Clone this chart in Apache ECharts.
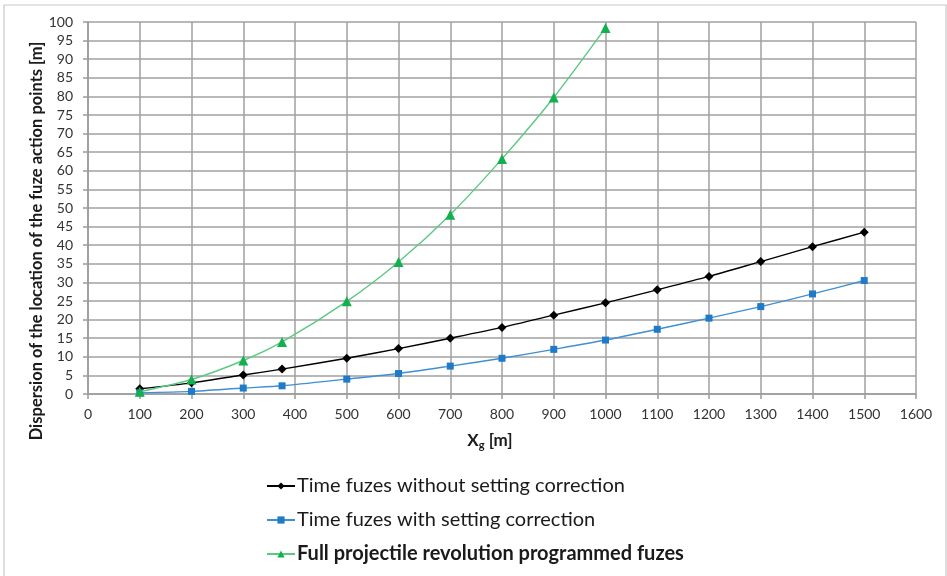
<!DOCTYPE html>
<html>
<head>
<meta charset="utf-8">
<script src="https://cdn.jsdelivr.net/npm/echarts@6/dist/echarts.min.js"></script>
<style>
  html, body { margin: 0; padding: 0; background: #ffffff; }
  #chart { width: 947px; height: 576px; }
</style>
</head>
<body>
<div id="chart"></div>
<script>
// Firing range Xg [m] at which each dispersion value is given
const rangeAll = [100, 200, 300, 375, 500, 600, 700, 800, 900, 1000, 1100, 1200, 1300, 1400, 1500];
const rangeFull = [100, 200, 300, 375, 500, 600, 700, 800, 900, 1000];

// Dispersion of the fuze action points [m]
const timeNoCorrection = [1.4, 3.0, 5.1, 6.7, 9.6, 12.2, 15.0, 17.9, 21.2, 24.5, 28.0, 31.6, 35.6, 39.6, 43.5];
const timeWithCorrection = [0.3, 0.7, 1.6, 2.2, 4.0, 5.5, 7.5, 9.6, 12.0, 14.5, 17.4, 20.4, 23.5, 26.9, 30.5];
const fullRevolution = [0.6, 3.9, 9.0, 14.0, 24.9, 35.5, 48.2, 63.2, 79.7, 98.4];

const seriesNames = [
  'Time fuzes without setting correction',
  'Time fuzes with setting correction',
  'Full projectile revolution programmed fuzes'
];
const yTitle = 'Dispersion of the location of the fuze action points [m]';

const pairs = (xs, ys) => xs.map((x, i) => [x, ys[i]]);

const font = 'Lato, "Open Sans", sans-serif';
const textColor = '#1a1a1a';
const chart = echarts.init(document.getElementById('chart'), null, { renderer: 'canvas' });

chart.setOption({
  animation: false,
  backgroundColor: '#ffffff',
  graphic: [
    {
      type: 'rect',
      shape: { x: 4, y: 5, width: 942, height: 580 },
      style: { fill: 'none', stroke: '#c8c8c8', lineWidth: 1.2 },
      z: -1
    },
    {
      // vertical axis title
      type: 'text',
      x: 37, y: 241,
      rotation: Math.PI / 2,
      style: {
        text: yTitle,
        font: 'bold 16.5px ' + font,
        fill: textColor,
        align: 'center',
        verticalAlign: 'middle'
      }
    },
    {
      // horizontal axis title with subscript
      type: 'text',
      x: 490, y: 441,
      style: {
        text: '{x|X}{sub|g}{x| [m]}',
        align: 'center',
        verticalAlign: 'middle',
        rich: {
          x: { font: 'bold 17px ' + font, fill: textColor },
          sub: { font: 'bold 11px ' + font, fill: textColor, padding: [9, 0, 0, 0] }
        }
      }
    }
  ],
  grid: { left: 88, right: 31, top: 22, bottom: 182, containLabel: false },
  xAxis: {
    type: 'value',
    min: 0, max: 1600, interval: 100,
    axisLine: { show: true, lineStyle: { color: '#9a9a9a', width: 1.5 } },
    axisTick: { show: true, length: 5, lineStyle: { color: '#9a9a9a', width: 1.5 } },
    axisLabel: { fontFamily: font, fontSize: 14, color: '#333333', margin: 13, formatter: v => String(v) },
    splitLine: { show: true, lineStyle: { color: '#a0a0a0', width: 1.5 } }
  },
  yAxis: {
    type: 'value',
    min: 0, max: 100, interval: 5,
    axisLine: { show: true, lineStyle: { color: '#9a9a9a', width: 1.5 } },
    axisTick: { show: true, length: 5, lineStyle: { color: '#9a9a9a', width: 1.5 } },
    axisLabel: { fontFamily: font, fontSize: 14, color: '#333333', margin: 15 },
    splitLine: { show: true, lineStyle: { color: '#a0a0a0', width: 1.5 } }
  },
  legend: {
    orient: 'vertical',
    left: 261,
    top: 471,
    itemGap: 14,
    itemWidth: 28,
    itemHeight: 9,
    data: [
      { name: seriesNames[0], textStyle: { fontWeight: 'normal' } },
      { name: seriesNames[1], textStyle: { fontWeight: 'normal' } },
      { name: seriesNames[2], textStyle: { fontWeight: 'bold' } }
    ],
    textStyle: { fontFamily: font, fontSize: 20, color: textColor, padding: [0, 0, 0, -3] }
  },
  series: [
    {
      name: seriesNames[0],
      type: 'line',
      data: pairs(rangeAll, timeNoCorrection),
      smooth: 0.25,
      symbol: 'diamond',
      symbolSize: 9,
      itemStyle: { color: '#000000' },
      lineStyle: { color: '#000000', width: 1.4 },
      z: 3
    },
    {
      name: seriesNames[1],
      type: 'line',
      data: pairs(rangeAll, timeWithCorrection),
      smooth: 0.25,
      symbol: 'rect',
      symbolSize: 7,
      itemStyle: { color: '#1f7bc8' },
      lineStyle: { color: '#3f8fd4', width: 1.4 },
      z: 3
    },
    {
      name: seriesNames[2],
      type: 'line',
      data: pairs(rangeFull, fullRevolution),
      smooth: 0.25,
      symbol: 'triangle',
      symbolSize: 10,
      itemStyle: { color: '#13b04f' },
      lineStyle: { color: '#5cc983', width: 1.4 },
      z: 4
    }
  ]
});
</script>
</body>
</html>
